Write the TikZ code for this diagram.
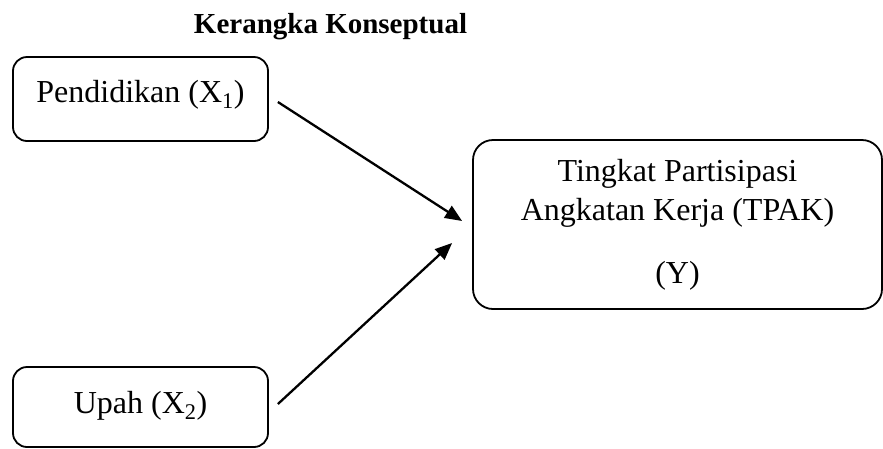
\documentclass[tikz,border=0pt]{standalone}
\usepackage{fontspec}
\setmainfont{Liberation Serif}
\usepackage{tikz}
\usetikzlibrary{arrows.meta,positioning}

\begin{document}
\begin{tikzpicture}[x=1pt,y=-1pt,
  factor/.style={draw,line width=1.8pt,rounded corners=14pt,
    minimum width=255pt,inner sep=0pt,align=center,
    font=\fontsize{32}{38}\selectfont},
  outcome/.style={draw,line width=1.8pt,rounded corners=20pt,
    minimum width=409pt,minimum height=169pt,inner sep=0pt,align=center,
    font=\fontsize{32}{39}\selectfont},
  arr/.style={-{Triangle[length=17pt,width=14pt]},line width=2.3pt}
]
  \useasboundingbox (0,0) rectangle (883,448);

  \node[font=\fontsize{29}{34}\selectfont\bfseries,anchor=base]
    (title) at (330.5,33) {Kerangka Konseptual};

  \node[factor,text height=45pt,text depth=39pt] (pend) at (140.5,99)
    {Pendidikan (X\textsubscript{1})};
  \node[factor,text height=46pt,text depth=34pt] (upah) at (140.5,407)
    {Upah (X\textsubscript{2})};
  \node[outcome] (tpak) at (677.5,224.5)
    {Tingkat Partisipasi\\Angkatan Kerja (TPAK)\\[24pt](Y)};

  \draw[arr] ([xshift=9pt,yshift=-3pt]pend.east) -- ([xshift=-10pt,yshift=3.5pt]tpak.west);
  \draw[arr] ([xshift=9pt,yshift=3pt]upah.east) -- ([xshift=-20pt,yshift=-18.5pt]tpak.west);
\end{tikzpicture}
\end{document}
